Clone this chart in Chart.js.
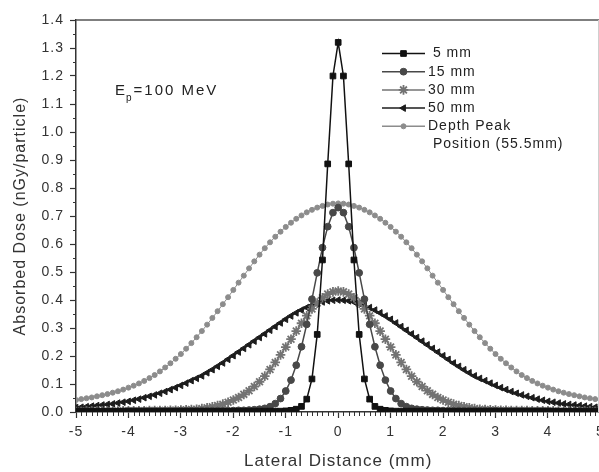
<!DOCTYPE html>
<html>
<head>
<meta charset="utf-8">
<script src="https://cdn.jsdelivr.net/npm/chart.js"></script>
<style>
  html, body { margin: 0; padding: 0; background: #fff; overflow: hidden; }
  #wrap { width: 599px; height: 472px; overflow: hidden; }
</style>
</head>
<body>
<div id="wrap"><canvas id="chart" width="607" height="472"></canvas></div>
<script>
// lateral positions (mm), 0.1 mm spacing
const lateral = [
  -5.0,-4.9,-4.8,-4.7,-4.6,-4.5,-4.4,-4.3,-4.2,-4.1,
  -4.0,-3.9,-3.8,-3.7,-3.6,-3.5,-3.4,-3.3,-3.2,-3.1,
  -3.0,-2.9,-2.8,-2.7,-2.6,-2.5,-2.4,-2.3,-2.2,-2.1,
  -2.0,-1.9,-1.8,-1.7,-1.6,-1.5,-1.4,-1.3,-1.2,-1.1,
  -1.0,-0.9,-0.8,-0.7,-0.6,-0.5,-0.4,-0.3,-0.2,-0.1,
  0.0,
  0.1,0.2,0.3,0.4,0.5,0.6,0.7,0.8,0.9,1.0,
  1.1,1.2,1.3,1.4,1.5,1.6,1.7,1.8,1.9,2.0,
  2.1,2.2,2.3,2.4,2.5,2.6,2.7,2.8,2.9,3.0,
  3.1,3.2,3.3,3.4,3.5,3.6,3.7,3.8,3.9,4.0,
  4.1,4.2,4.3,4.4,4.5,4.6,4.7,4.8,4.9,5.0
];

// absorbed dose (nGy/particle)
const dose5mm = [
  0.002,0.002,0.002,0.002,0.002,0.002,0.002,0.002,0.002,0.002,
  0.002,0.002,0.002,0.002,0.002,0.002,0.002,0.002,0.002,0.002,
  0.002,0.002,0.002,0.002,0.002,0.002,0.002,0.002,0.002,0.002,
  0.003,0.003,0.003,0.003,0.003,0.003,0.003,0.003,0.003,0.003,
  0.004,0.006,0.010,0.020,0.046,0.118,0.277,0.543,0.886,1.200,
  1.320,
  1.200,0.886,0.543,0.277,0.118,0.046,0.020,0.010,0.006,0.004,
  0.003,0.003,0.003,0.003,0.003,0.003,0.003,0.003,0.003,0.003,
  0.002,0.002,0.002,0.002,0.002,0.002,0.002,0.002,0.002,0.002,
  0.002,0.002,0.002,0.002,0.002,0.002,0.002,0.002,0.002,0.002,
  0.002,0.002,0.002,0.002,0.002,0.002,0.002,0.002,0.002,0.002
];

const dose15mm = [
  0.003,0.003,0.003,0.003,0.003,0.003,0.003,0.003,0.003,0.003,
  0.004,0.004,0.004,0.004,0.004,0.004,0.004,0.004,0.004,0.004,
  0.005,0.005,0.005,0.005,0.005,0.005,0.005,0.005,0.005,0.005,
  0.005,0.006,0.006,0.007,0.008,0.010,0.013,0.019,0.030,0.048,
  0.075,0.114,0.167,0.233,0.313,0.403,0.497,0.587,0.662,0.712,
  0.730,
  0.712,0.662,0.587,0.497,0.403,0.313,0.233,0.167,0.114,0.075,
  0.048,0.030,0.019,0.013,0.010,0.008,0.007,0.006,0.006,0.005,
  0.005,0.005,0.005,0.005,0.005,0.005,0.005,0.005,0.005,0.005,
  0.004,0.004,0.004,0.004,0.004,0.004,0.004,0.004,0.004,0.004,
  0.003,0.003,0.003,0.003,0.003,0.003,0.003,0.003,0.003,0.003
];

const dose30mm = [
  0.002,0.002,0.003,0.003,0.003,0.003,0.003,0.003,0.003,0.004,
  0.004,0.004,0.004,0.004,0.005,0.005,0.005,0.005,0.006,0.006,
  0.007,0.008,0.009,0.010,0.012,0.015,0.019,0.023,0.028,0.035,
  0.043,0.052,0.063,0.076,0.091,0.108,0.128,0.152,0.177,0.204,
  0.232,0.260,0.289,0.317,0.344,0.368,0.389,0.408,0.421,0.429,
  0.432,
  0.429,0.421,0.408,0.389,0.368,0.344,0.317,0.289,0.260,0.232,
  0.204,0.177,0.152,0.128,0.108,0.091,0.076,0.063,0.052,0.043,
  0.035,0.028,0.023,0.019,0.015,0.012,0.010,0.009,0.008,0.007,
  0.006,0.006,0.005,0.005,0.005,0.005,0.004,0.004,0.004,0.004,
  0.004,0.003,0.003,0.003,0.003,0.003,0.003,0.003,0.002,0.002
];

const dose50mm = [
  0.016,0.017,0.019,0.021,0.023,0.025,0.027,0.029,0.032,0.035,
  0.038,0.042,0.046,0.051,0.056,0.061,0.067,0.073,0.080,0.087,
  0.095,0.103,0.112,0.120,0.129,0.140,0.151,0.163,0.175,0.188,
  0.201,0.214,0.227,0.240,0.253,0.266,0.279,0.292,0.305,0.318,
  0.331,0.343,0.354,0.364,0.373,0.381,0.388,0.393,0.397,0.399,
  0.400,
  0.399,0.397,0.393,0.388,0.381,0.373,0.364,0.354,0.343,0.331,
  0.318,0.305,0.292,0.279,0.266,0.253,0.240,0.227,0.214,0.201,
  0.188,0.175,0.163,0.151,0.140,0.129,0.120,0.112,0.103,0.095,
  0.087,0.080,0.073,0.067,0.061,0.056,0.051,0.046,0.042,0.038,
  0.035,0.032,0.029,0.027,0.025,0.023,0.021,0.019,0.017,0.016
];

const doseDepthPeak = [
  0.043,0.046,0.049,0.052,0.056,0.060,0.064,0.069,0.074,0.080,
  0.087,0.094,0.102,0.111,0.121,0.132,0.145,0.159,0.174,0.190,
  0.207,0.226,0.246,0.267,0.289,0.312,0.336,0.360,0.385,0.410,
  0.436,0.462,0.487,0.513,0.538,0.562,0.585,0.606,0.626,0.644,
  0.661,0.676,0.690,0.702,0.713,0.722,0.730,0.736,0.741,0.744,
  0.745,
  0.744,0.741,0.736,0.730,0.722,0.713,0.702,0.690,0.676,0.661,
  0.644,0.626,0.606,0.585,0.562,0.538,0.513,0.487,0.462,0.436,
  0.410,0.385,0.360,0.336,0.312,0.289,0.267,0.246,0.226,0.207,
  0.190,0.174,0.159,0.145,0.132,0.121,0.111,0.102,0.094,0.087,
  0.080,0.074,0.069,0.064,0.060,0.056,0.052,0.049,0.046,0.043
];

// legend text, one entry per series (some span two lines)
const legendLines = [
  [' 5 mm'],
  ['15 mm'],
  ['30 mm'],
  ['50 mm'],
  ['Depth Peak', ' Position (55.5mm)']
];

const FONT = "'Liberation Sans', Arial, sans-serif";
Chart.defaults.font.family = FONT;
Chart.defaults.color = '#333';

function pairs(values) {
  return lateral.map((x, i) => ({ x: x, y: values[i] }));
}

function series(idx, values, color, style, radius, extra) {
  return Object.assign({
    label: legendLines[idx].join(' ').trim(),
    data: pairs(values),
    borderColor: color,
    backgroundColor: color,
    borderWidth: 1.5,
    pointStyle: style,
    pointRadius: radius,
    pointBackgroundColor: color,
    pointBorderColor: color,
    pointBorderWidth: 1,
    pointHoverRadius: radius,
    tension: 0,
    fill: false
  }, extra || {});
}

const datasets = [
  series(0, dose5mm, '#111111', 'rect', 4),
  series(1, dose15mm, '#484848', 'circle', 3.4),
  series(2, dose30mm, '#737373', 'star', 4.8, { pointBorderWidth: 1.8 }),
  series(3, dose50mm, '#1c1c1c', 'triangle', 3.8, { pointRotation: -90 }),
  series(4, doseDepthPeak, '#8c8c8c', 'circle', 2.5, { borderWidth: 1 })
];

// frame, minor ticks, legend and energy label
const decorations = {
  id: 'decorations',
  beforeDraw(chart) {
    chart.ctx.letterSpacing = '1px';
  },
  afterDraw(chart) {
    const { ctx, chartArea: a, scales: { x, y } } = chart;
    ctx.save();
    ctx.letterSpacing = '1px';

    // top and right frame
    ctx.strokeStyle = '#555';
    ctx.lineWidth = 1.5;
    ctx.beginPath();
    ctx.moveTo(a.left, a.top);
    ctx.lineTo(a.right, a.top);
    ctx.stroke();
    ctx.strokeStyle = '#cfcfcf';
    ctx.lineWidth = 1;
    ctx.beginPath();
    ctx.moveTo(598.5, a.top);
    ctx.lineTo(598.5, a.bottom);
    ctx.stroke();

    // minor ticks
    ctx.strokeStyle = '#333';
    ctx.lineWidth = 1;
    for (let i = -50; i <= 50; i++) {
      if (i % 10 === 0) continue;
      const px = Math.round(x.getPixelForValue(i / 10)) + 0.5;
      ctx.beginPath();
      ctx.moveTo(px, a.bottom);
      ctx.lineTo(px, a.bottom + 4);
      ctx.stroke();
    }
    for (let i = 1; i < 28; i += 2) {
      const py = Math.round(y.getPixelForValue(i * 0.05)) + 0.5;
      ctx.beginPath();
      ctx.moveTo(a.left, py);
      ctx.lineTo(a.left - 3, py);
      ctx.stroke();
    }

    // legend: line + marker + text
    const lx1 = 382, lx2 = 425, tx = 428, ly0 = 53.5, ldy = 18.2;
    let row = 0;
    chart.data.datasets.forEach((ds, i) => {
      const yy = ly0 + row * ldy;
      ctx.strokeStyle = ds.borderColor;
      ctx.lineWidth = 1.5;
      ctx.beginPath();
      ctx.moveTo(lx1, yy);
      ctx.lineTo(lx2, yy);
      ctx.stroke();
      ctx.fillStyle = ds.pointBackgroundColor;
      ctx.strokeStyle = ds.pointBorderColor;
      ctx.lineWidth = ds.pointBorderWidth;
      Chart.helpers.drawPoint(ctx, {
        pointStyle: ds.pointStyle,
        rotation: ds.pointRotation || 0,
        radius: ds.pointRadius,
        borderWidth: ds.pointBorderWidth
      }, (lx1 + lx2) / 2, yy);
      ctx.fillStyle = '#222';
      ctx.font = '14px ' + FONT;
      ctx.textBaseline = 'middle';
      ctx.textAlign = 'left';
      legendLines[i].forEach(t => {
        ctx.fillText(t, tx, ly0 + row * ldy);
        row++;
      });
    });

    // E_p = 100 MeV
    ctx.fillStyle = '#222';
    ctx.textBaseline = 'alphabetic';
    ctx.letterSpacing = '2px';
    ctx.font = '15px ' + FONT;
    let ex = 115;
    ctx.fillText('E', ex, 95);
    ex += ctx.measureText('E').width - 1;
    ctx.font = '10px ' + FONT;
    ctx.fillText('p', ex, 101);
    ex += ctx.measureText('p').width;
    ctx.font = '15px ' + FONT;
    ctx.fillText('=100 MeV', ex, 95);

    ctx.restore();
  }
};

new Chart(document.getElementById('chart'), {
  type: 'line',
  data: { datasets: datasets },
  options: {
    responsive: false,
    animation: false,
    layout: { padding: { top: 20, right: 0, bottom: 0, left: 0 } },
    plugins: {
      legend: { display: false },
      tooltip: { enabled: false }
    },
    scales: {
      x: {
        type: 'linear',
        min: -5,
        max: 5,
        ticks: {
          stepSize: 1,
          autoSkip: false,
          maxRotation: 0,
          padding: 6,
          color: '#333',
          font: { size: 14 }
        },
        grid: { drawOnChartArea: false, tickLength: 6, color: '#333', tickWidth: 1.2 },
        border: { color: '#333', width: 1.5 },
        title: {
          display: true,
          text: 'Lateral Distance (mm)',
          color: '#333',
          font: { size: 17 },
          padding: 0
        },
        afterFit: s => { s.height = 60; s.paddingLeft = 0; s.paddingRight = 0; }
      },
      y: {
        type: 'linear',
        min: 0,
        max: 1.4,
        ticks: {
          stepSize: 0.1,
          padding: 6,
          color: '#333',
          font: { size: 14 },
          callback: v => v.toFixed(1)
        },
        grid: { drawOnChartArea: false, tickLength: 6, color: '#333', tickWidth: 1.2 },
        border: { color: '#333', width: 1.5 },
        title: {
          display: true,
          text: 'Absorbed Dose (nGy/particle)',
          color: '#333',
          font: { size: 16 },
          padding: { top: 11, bottom: 0 }
        },
        afterFit: s => { s.width = 76; s.paddingTop = 0; s.paddingBottom = 0; }
      }
    }
  },
  plugins: [decorations]
});
</script>
</body>
</html>
